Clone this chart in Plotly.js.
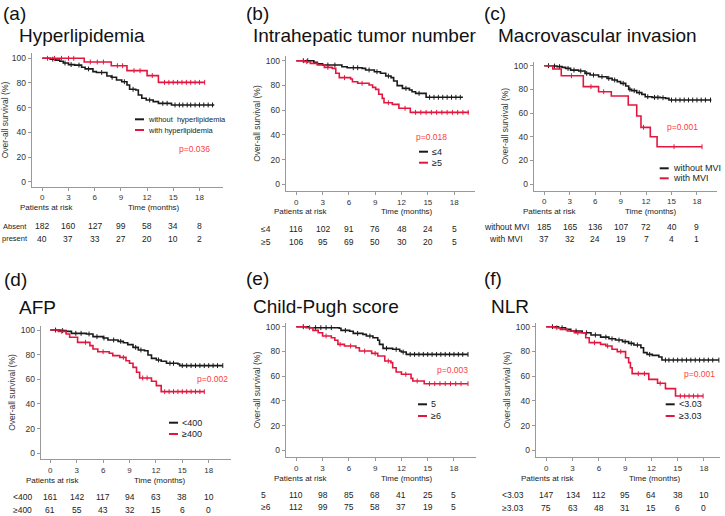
<!DOCTYPE html>
<html><head><meta charset="utf-8">
<script src="https://cdn.plot.ly/plotly-3.0.1.min.js"></script>
<style>html,body{margin:0;padding:0;background:#fff}#chart{width:725px;height:516px}</style>
</head><body><div id="chart"></div>
<script>
// ---------- data ----------
const months = [0, 3, 6, 9, 12, 15, 18];
const survivalTicks = [0, 20, 40, 60, 80, 100];
const panelLetters = ['(a)', '(b)', '(c)', '(d)', '(e)', '(f)'];
const panelTitles = ['Hyperlipidemia', 'Intrahepatic tumor number', 'Macrovascular invasion', 'AFP', 'Child-Pugh score', 'NLR'];
const pValues = ['p=0.036', 'p=0.018', 'p=0.001', 'p=0.002', 'p=0.003', 'p=0.001'];
const legendBlack = ['without  hyperlipidemia', '≤4', 'without MVI', '<400', '5', '<3.03'];
const legendRed = ['with hyperlipidemia', '≥5', 'with MVI', '≥400', '≥6', '≥3.03'];
const riskRowBlack = ['Absent', '≤4', 'without MVI', '<400', '5', '<3.03'];
const riskRowRed = ['present', '≥5', 'with MVI', '≥400', '≥6', '≥3.03'];

// (a) Hyperlipidemia
const hyperBlackTime = [0,0.9,1.5,2.0,2.4,3.0,3.7,4.5,4.9,5.8,6.2,7.4,7.9,8.5,9.1,9.7,10.0,10.7,11.0,11.4,11.9,12.7,13.3,14.8,19.7];
const hyperBlackSurv = [100,99.3,98.5,97.6,96.2,94.9,94.5,92.7,91.4,89.2,88.5,85.7,84.6,82.4,81.0,78.4,74.9,74.3,70.3,67.6,66.2,64.9,63.5,62.2,62.2];
const hyperBlackCensor = [1.2,2.6,3.3,4.2,5.3,6.8,8.0,9.4,10.4,12.3,13.8,14.3,15.2,15.7,16.1,16.6,17.0,17.5,18.0,18.5,19.0,19.5];
const hyperRedTime = [0,4.8,7.9,9.7,12.0,13.3,18.6];
const hyperRedSurv = [100,97,94,90,86,80.5,80.5];
const hyperRedCensor = [0.6,1.4,2.2,3.0,3.6,5.5,6.3,7.0,8.6,9.2,10.5,11.2,12.6,14.0,14.5,15.0,15.5,16.0,16.5,17.0,17.5,18.0,18.6];
const hyperRiskBlack = [182,160,127,99,58,34,8];
const hyperRiskRed = [40,37,33,27,20,10,2];

// (b) Intrahepatic tumor number
const tumorBlackTime = [0,2.0,2.4,3.0,5.2,5.8,7.5,7.9,8.9,9.6,10.2,10.8,11.1,11.5,12.1,12.9,13.2,13.6,14.8,19.0];
const tumorBlackSurv = [100,98.7,97.4,96.5,95.1,94.3,93.8,92.5,91.1,89.8,87.6,86.3,83.6,79.8,77.6,76.3,74.9,73.6,70.4,70.4];
const tumorBlackCensor = [0.8,1.3,3.6,4.4,6.5,7.0,8.3,9.2,10.5,12.5,14.0,15.2,15.7,16.2,16.7,17.2,17.7,18.2,18.7];
const tumorRedTime = [0,0.9,1.6,2.4,3.2,4.1,4.5,4.9,6.2,6.4,7.0,8.3,8.7,9.05,9.4,9.8,10.0,10.95,11.7,13.0,19.7];
const tumorRedSurv = [100,99.2,97.8,96.5,94.6,93.8,89.8,86.3,85.2,83.0,81.7,80.3,78.4,76.8,72.8,69.5,66.0,64.7,61.5,58.2,58.2];
const tumorRedCensor = [1.2,3.6,5.5,7.5,10.5,12.4,13.6,14.2,14.8,15.4,16.0,16.6,17.2,17.8,18.4,19.0,19.6];
const tumorRiskBlack = [116,102,91,76,48,24,5];
const tumorRiskRed = [106,95,69,50,30,20,5];

// (c) Macrovascular invasion
const mviBlackTime = [0,1.0,1.5,2.1,2.5,3.1,4.05,4.8,5.4,6.4,7.4,8.0,8.6,9.0,9.6,9.95,10.3,10.9,11.5,11.9,12.7,13.7,14.3,14.7,19.7];
const mviBlackSurv = [100,99.7,99.2,98.6,97.7,96.3,95.5,93.5,92.1,90.7,89.3,87.9,86.5,85.1,82.8,80.0,78.9,77.2,75.8,73.8,73.2,72.9,72.4,71.0,71.0];
const mviBlackCensor = [0.5,1.2,1.8,2.8,3.5,4.3,5.0,5.8,6.8,7.6,8.3,9.3,10.1,10.6,11.2,12.2,13.0,13.4,14.0,15.0,15.5,16.0,16.5,17.0,17.5,18.0,18.5,19.0,19.6];
const mviRedTime = [0,1.0,2.0,4.6,6.4,7.9,9.9,10.9,11.4,12.5,13.3,18.6];
const mviRedSurv = [100,97.2,91.5,82.3,78.0,74.4,66.8,57.5,47.9,40.0,31.5,31.5];
const mviRedCensor = [3.2,5.5,7.0,11.7,15.3,18.6];
const mviRiskBlack = [185,165,136,107,72,40,9];
const mviRiskRed = [37,32,24,19,7,4,1];

// (d) AFP
const afpBlackTime = [0,1.1,1.8,2.4,4.1,4.85,6.0,6.55,7.7,8.3,8.8,9.4,10.0,10.7,11.1,11.5,12.05,12.6,13.2,14.5,14.7,19.6];
const afpBlackSurv = [100,99.5,98.9,97.3,96.8,94.6,93.5,91.9,90.8,89.7,88.1,85.9,83.8,83.2,79.7,77.0,75.7,74.6,73.0,72.4,71.1,71.1];
const afpBlackCensor = [0.6,1.4,2.9,3.5,4.4,5.3,6.1,7.2,8.0,9.7,10.3,12.3,13.6,14.0,15.0,15.5,16.0,16.5,17.0,17.5,18.0,18.5,19.0,19.6];
const afpRedTime = [0,0.9,1.8,2.2,3.1,4.5,4.85,5.4,6.7,7.1,7.9,8.6,9.0,9.4,9.8,10.15,11.5,12.05,12.6,17.5];
const afpRedSurv = [100,98.9,96.8,94.1,90.0,87.3,84.6,82.4,81.1,79.2,77.8,75.1,73.0,69.7,65.7,61.1,58.4,54.9,50.0,50.0];
const afpRedCensor = [1.3,4.0,6.0,8.3,10.5,11.0,13.0,13.5,14.0,14.5,15.0,15.5,16.0,16.5,17.0,17.5];
const afpRiskBlack = [161,142,117,94,63,38,10];
const afpRiskRed = [61,55,43,32,15,6,0];

// (e) Child-Pugh score
const cpBlackTime = [0,1.5,4.9,5.1,6.1,6.5,7.6,8.0,8.75,9.3,9.5,9.9,11.0,11.8,12.0,12.55,19.6];
const cpBlackSurv = [100,99.2,98.7,97.0,96.3,94.6,93.8,92.5,91.1,89.0,85.7,82.5,81.7,80.3,79.5,77.6,77.6];
const cpBlackCensor = [0.8,2.2,2.8,3.4,4.0,5.6,7.0,8.4,10.3,11.4,12.2,13.0,13.5,14.0,14.5,15.0,15.5,16.0,16.5,17.0,17.5,18.0,18.5,19.0,19.6];
const cpRedTime = [0,1.1,1.9,2.5,3.0,4.0,4.4,4.75,5.5,6.8,7.2,8.6,9.3,10.1,10.8,11.0,11.4,12.0,13.1,13.3,14.6,19.6];
const cpRedSurv = [100,99.2,97.0,95.1,92.5,91.1,89.0,85.7,84.4,83.0,80.3,78.4,76.3,72.2,70.9,66.8,63.3,61.5,58.2,56.1,53.9,53.9];
const cpRedCensor = [1.5,3.4,5.0,6.2,7.8,9.0,10.5,12.5,13.8,15.2,15.8,16.4,17.0,17.6,18.2,18.8,19.6];
const cpRiskBlack = [110,98,85,68,41,25,5];
const cpRiskRed = [112,99,75,58,37,19,5];

// (f) NLR
const nlrBlackTime = [0,1.4,2.2,2.8,4.1,5.1,6.2,7.15,7.9,8.7,9.4,10.0,10.8,11.1,11.5,12.1,12.85,13.2,19.7];
const nlrBlackSurv = [100,99.2,97.8,96.5,95.1,93.3,91.6,90.2,89.2,87.9,86.5,85.2,83.0,79.0,77.6,76.8,75.5,73.0,73.0];
const nlrBlackCensor = [0.7,1.8,3.4,4.6,5.6,6.8,7.5,8.3,9.0,9.7,10.4,11.8,13.6,14.0,14.5,15.0,15.5,16.0,16.5,17.0,17.5,18.0,18.5,19.0,19.7];
const nlrRedTime = [0,0.9,1.6,2.4,3.2,4.5,4.9,6.2,6.8,7.5,8.1,9.05,9.4,9.6,9.8,11.7,12.7,13.6,14.75,17.9];
const nlrRedSurv = [100,99.2,97.8,96.5,95.1,91.1,87.1,85.7,84.4,81.7,79.8,74.9,70.9,66.8,62.0,57.4,54.2,49.9,43.9,43.9];
const nlrRedCensor = [1.2,3.6,5.5,7.0,8.5,10.5,11.2,13.0,15.3,15.8,16.3,16.8,17.3,17.9];
const nlrRiskBlack = [147,134,112,95,64,38,10];
const nlrRiskRed = [75,63,48,31,15,6,0];

// ---------- layout geometry (pixels) ----------
const W = 725, H = 516;
const FONT = 'Liberation Sans, Arial, sans-serif';
const BLACK = '#1a1a1a', RED = '#e3173e', PRED = '#ff3d3d';
const geom = [
  {x0:42.3, ppm:8.73, y100:58.3, ppu:1.234, L:31.7, R:223, T:53.3, B:186.7, letter:[1,13], title:[17,35], par:[18,207.5], time:[126,207.5], rows:[226,239], rowX:14.5, rowAnchor:'center', rowFont:7.5, legX:135, legY:[119.3,130], legFont:7.5, p:[176.7,149]},
  {x0:296.3, ppm:8.77, y100:60.7, ppu:1.236, L:285.7, R:475, T:56, B:191, letter:[244,13], title:[251,35], par:[272,211.5], time:[379,211.5], rows:[229,242], rowX:259, rowAnchor:'left', rowFont:8.5, legX:419, legY:[151.7,162.7], legFont:9, p:[414,136.7]},
  {x0:544.3, ppm:8.48, y100:65.7, ppu:1.183, L:533.7, R:717, T:61.5, B:190.7, letter:[482,13], title:[496,35], par:[521,211.5], time:[623,211.5], rows:[227,239], rowX:506, rowAnchor:'center', rowFont:8.5, legX:659.7, legY:[168.3,178.3], legFont:9, p:[665,126.7]},
  {x0:50.3, ppm:8.8, y100:330, ppu:1.233, L:40.7, R:231, T:326, B:459, letter:[2,279], title:[17,307], par:[24,480], time:[132,480], rows:[497,510], rowX:11, rowAnchor:'left', rowFont:8.5, legX:169, legY:[422.7,434], legFont:9, p:[194.7,379.3]},
  {x0:296.3, ppm:8.76, y100:326.7, ppu:1.236, L:285.7, R:476, T:323, B:457, letter:[244,278], title:[251,306], par:[272,478], time:[379,478], rows:[495,507], rowX:259, rowAnchor:'left', rowFont:8.5, legX:418, legY:[404.3,416], legFont:9, p:[434.7,370.3]},
  {x0:546.3, ppm:8.76, y100:326.7, ppu:1.236, L:535.7, R:720, T:323, B:457, letter:[482,278], title:[489,306], par:[519,478], time:[627,478], rows:[495,508], rowX:500, rowAnchor:'left', rowFont:8.5, legX:665.7, legY:[404.3,416], legFont:9, p:[682,373.7]}
];

const panels = [
  {bT:hyperBlackTime, bS:hyperBlackSurv, bC:hyperBlackCensor, rT:hyperRedTime, rS:hyperRedSurv, rC:hyperRedCensor, riskB:hyperRiskBlack, riskR:hyperRiskRed},
  {bT:tumorBlackTime, bS:tumorBlackSurv, bC:tumorBlackCensor, rT:tumorRedTime, rS:tumorRedSurv, rC:tumorRedCensor, riskB:tumorRiskBlack, riskR:tumorRiskRed},
  {bT:mviBlackTime, bS:mviBlackSurv, bC:mviBlackCensor, rT:mviRedTime, rS:mviRedSurv, rC:mviRedCensor, riskB:mviRiskBlack, riskR:mviRiskRed},
  {bT:afpBlackTime, bS:afpBlackSurv, bC:afpBlackCensor, rT:afpRedTime, rS:afpRedSurv, rC:afpRedCensor, riskB:afpRiskBlack, riskR:afpRiskRed},
  {bT:cpBlackTime, bS:cpBlackSurv, bC:cpBlackCensor, rT:cpRedTime, rS:cpRedSurv, rC:cpRedCensor, riskB:cpRiskBlack, riskR:cpRiskRed},
  {bT:nlrBlackTime, bS:nlrBlackSurv, bC:nlrBlackCensor, rT:nlrRedTime, rS:nlrRedSurv, rC:nlrRedCensor, riskB:nlrRiskBlack, riskR:nlrRiskRed}
];

function stepAt(T, S, t) { let v = S[0]; for (let i = 0; i < T.length; i++) { if (T[i] <= t) v = S[i]; } return v; }
const px = v => v / W;
const py = v => 1 - v / H;

const traces = [];
const layout = {
  width: W, height: H, margin: {l:0, r:0, t:0, b:0},
  paper_bgcolor: '#fff', plot_bgcolor: '#fff', showlegend: false,
  font: {family: FONT, color: '#222'},
  annotations: [], shapes: []
};
const ann = (x, y, text, opts) => Object.assign({xref:'paper', yref:'paper', x:px(x), y:py(y), text:text, showarrow:false, xanchor:'left', yanchor:'middle', font:{family:FONT, size:8, color:'#222'}}, opts || {});

panels.forEach((p, i) => {
  const g = geom[i];
  const s = i === 0 ? '' : String(i + 1);
  const xa = 'x' + s, ya = 'y' + s;
  [[p.bT, p.bS, p.bC, BLACK], [p.rT, p.rS, p.rC, RED]].forEach(([T, S, C, col]) => {
    traces.push({x:T, y:S, xaxis:xa, yaxis:ya, mode:'lines', line:{shape:'hv', color:col, width:1.6}, hoverinfo:'skip'});
    traces.push({x:C, y:C.map(t => stepAt(T, S, t)), xaxis:xa, yaxis:ya, mode:'markers', marker:{symbol:'line-ns-open', size:3.5, color:col, line:{color:col, width:1}}, hoverinfo:'skip'});
  });
  layout['xaxis' + s] = {
    domain:[px(g.L), px(g.R)], range:[(g.L - g.x0) / g.ppm, (g.R - g.x0) / g.ppm], anchor:ya,
    tickvals:months, ticks:'outside', ticklen:3, tickcolor:'#999', showline:true, linecolor:'#999', linewidth:1,
    showgrid:false, zeroline:false, fixedrange:true, tickfont:{family:FONT, size:8, color:'#333'}
  };
  layout['yaxis' + s] = {
    domain:[py(g.B), py(g.T)], range:[100 - (g.B - g.y100) / g.ppu, 100 + (g.y100 - g.T) / g.ppu], anchor:xa,
    tickvals:survivalTicks, ticks:'outside', ticklen:3, tickcolor:'#999', showline:true, linecolor:'#999', linewidth:1,
    showgrid:false, zeroline:false, fixedrange:true, tickfont:{family:FONT, size:8.5, color:'#333'},
    title:{text:'Over-all survival (%)', font:{family:FONT, size:8.5, color:'#333'}, standoff:3}
  };
  const A = layout.annotations;
  A.push(ann(g.letter[0], g.letter[1], panelLetters[i], {font:{family:FONT, size:19, color:'#111'}}));
  A.push(ann(g.title[0], g.title[1], panelTitles[i], {font:{family:FONT, size:19, color:'#111'}}));
  A.push(ann(g.par[0], g.par[1], 'Patients at risk'));
  A.push(ann(g.time[0], g.time[1], 'Time (months)'));
  A.push(ann(g.rowX, g.rows[0], riskRowBlack[i], {xanchor:g.rowAnchor, font:{family:FONT, size:g.rowFont, color:'#222'}}));
  A.push(ann(g.rowX, g.rows[1], riskRowRed[i], {xanchor:g.rowAnchor, font:{family:FONT, size:g.rowFont, color:'#222'}}));
  months.forEach((m, j) => {
    A.push({xref:xa, yref:'paper', x:m, y:py(g.rows[0]), text:String(p.riskB[j]), showarrow:false, xanchor:'center', yanchor:'middle', font:{family:FONT, size:8.5, color:'#222'}});
    A.push({xref:xa, yref:'paper', x:m, y:py(g.rows[1]), text:String(p.riskR[j]), showarrow:false, xanchor:'center', yanchor:'middle', font:{family:FONT, size:8.5, color:'#222'}});
  });
  A.push(ann(g.p[0], g.p[1], pValues[i], {font:{family:FONT, size:8.5, color:PRED}}));
  [[legendBlack[i], BLACK, g.legY[0]], [legendRed[i], RED, g.legY[1]]].forEach(([lab, col, yy]) => {
    layout.shapes.push({type:'line', xref:'paper', yref:'paper', x0:px(g.legX), x1:px(g.legX + 9), y0:py(yy), y1:py(yy), line:{color:col, width:2}});
    A.push(ann(g.legX + 11, yy, lab, {font:{family:FONT, size:g.legFont, color:'#222'}}));
  });
});

Plotly.newPlot('chart', traces, layout, {staticPlot:true, displayModeBar:false});
</script>
</body></html>
